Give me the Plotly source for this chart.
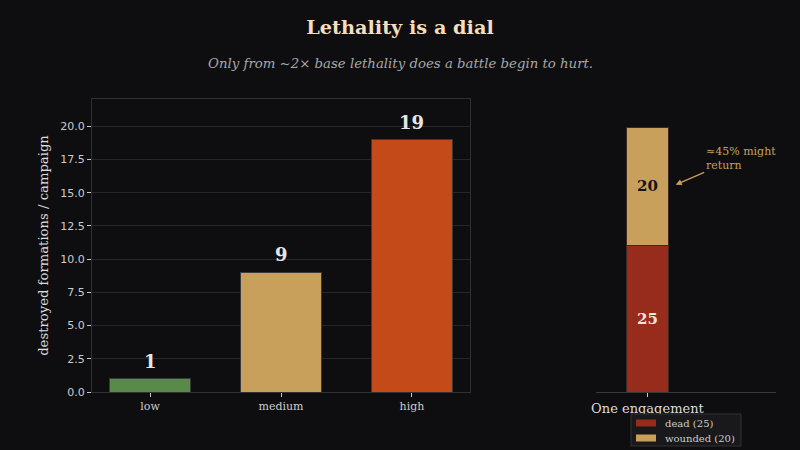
import plotly.graph_objects as go

# campaign comparison
levels = ["low", "medium", "high"]
destroyed = [1, 9, 19]
level_colors = ["#5a8a48", "#c8a05c", "#c44a1a"]

# one engagement breakdown
engagement = ["One engagement"]
dead = [25]
wounded = [20]
dead_color = "#982c1c"
wounded_color = "#c8a05c"

BG = "#0e0e10"
GRID = "#262628"
SERIF = "DejaVu Serif"
SANS = "DejaVu Sans"

fig = go.Figure()

fig.add_trace(go.Bar(
    x=levels, y=destroyed, marker=dict(color=level_colors, line=dict(color="#3a3a3a", width=1)),
    width=0.62, showlegend=False, xaxis="x", yaxis="y", hoverinfo="skip",
))

stack = [("dead", dead, dead_color, "#f0e6dc"), ("wounded", wounded, wounded_color, "#141414")]
for name, vals, col, txtcol in stack:
    fig.add_trace(go.Bar(
        x=engagement, y=vals, name="%s (%d)" % (name, vals[0]), xaxis="x2", yaxis="y2",
        marker=dict(color=col, line=dict(color="#3a2a22", width=1)), width=0.5,
        text=[str(v) for v in vals], textposition="inside", insidetextanchor="middle",
        textfont=dict(family=SERIF, size=15, color=txtcol, weight="bold"),
        showlegend=False,
    ))

# value labels over the campaign bars
for lv, v in zip(levels, destroyed):
    fig.add_annotation(x=lv, y=v, xref="x", yref="y", text="<b>%d</b>" % v,
                       showarrow=False, yanchor="bottom", yshift=5,
                       font=dict(family=SERIF, size=18, color="#e6e6e6"))

# note on the wounded
fig.add_annotation(x=0.33, y=35.3, xref="x2", yref="y2", text="",
                   showarrow=True, arrowhead=2, arrowsize=1, arrowwidth=1.2,
                   arrowcolor=wounded_color, ax=30, ay=-13)
fig.add_annotation(x=704 / 800, y=1 - 158 / 450, xref="paper", yref="paper",
                   text="≈45% might<br>return", showarrow=False, align="left",
                   xanchor="left", yanchor="middle",
                   font=dict(family=SERIF, size=11, color=wounded_color))

fig.add_annotation(x=0.5, y=1 - 63 / 450, xref="paper", yref="paper",
                   text="<i>Only from ~2× base lethality does a battle begin to hurt.</i>",
                   showarrow=False, xanchor="center", yanchor="middle",
                   font=dict(family=SERIF, size=13.3, color="#a8a8a8"))

# compact legend box under the engagement bar
fig.add_shape(type="rect", xref="paper", yref="paper",
              x0=631 / 800, x1=741 / 800, y0=1 - 446 / 450, y1=1 - 414 / 450,
              fillcolor="#19191b", line=dict(color="#333335", width=1))
for i, (name, vals, col, _) in enumerate(stack):
    yc = 423 + 15 * i
    fig.add_shape(type="rect", xref="paper", yref="paper",
                  x0=636 / 800, x1=656 / 800, y0=1 - (yc + 3.5) / 450, y1=1 - (yc - 3.5) / 450,
                  fillcolor=col, line=dict(width=0))
    fig.add_annotation(x=663 / 800, y=1 - yc / 450, xref="paper", yref="paper",
                       text="%s (%d)" % (name, vals[0]), showarrow=False,
                       xanchor="left", yanchor="middle",
                       font=dict(family=SERIF, size=10, color="#cccccc"))

fig.update_layout(
    width=800, height=450,
    paper_bgcolor=BG, plot_bgcolor=BG,
    margin=dict(l=0, r=0, t=0, b=0, autoexpand=False),
    barmode="stack", bargap=0.4, showlegend=False,
    title=dict(text="<b>Lethality is a dial</b>", x=0.5, xanchor="center",
               y=1 - 27 / 450, yanchor="middle",
               font=dict(family=SERIF, size=19.3, color="#f2dfbc")),
    xaxis=dict(domain=[92 / 800, 470 / 800], range=[-0.443, 2.443],
               showline=True, mirror=True, linecolor="#303032", linewidth=1,
               ticks="outside", ticklen=4, tickcolor="#cccccc",
               tickfont=dict(family=SERIF, size=11, color="#cccccc"),
               showgrid=False, zeroline=False),
    yaxis=dict(domain=[58 / 450, 351 / 450], range=[0, 22.05],
               dtick=2.5, tickformat=".1f",
               showline=True, mirror=True, linecolor="#303032", linewidth=1,
               ticks="outside", ticklen=4, tickcolor="#cccccc",
               tickfont=dict(family=SANS, size=11, color="#cccccc"),
               gridcolor=GRID, zeroline=False,
               title=dict(text="destroyed formations / campaign", standoff=8,
                          font=dict(family=SERIF, size=13.2, color="#dddddd"))),
    xaxis2=dict(domain=[596 / 800, 776 / 800], range=[-0.6, 1.5],
                anchor="y2", showline=True, linecolor="#3a3a3c", linewidth=1,
                ticks="outside", ticklen=4, tickcolor="#cccccc",
                tickfont=dict(family=SERIF, size=13, color="#dddddd"),
                showgrid=False, zeroline=False),
    yaxis2=dict(domain=[58 / 450, 351 / 450], range=[0, 49.9], anchor="x2",
                visible=False),
)

# page body has a default margin; drop it so the figure sits at 0,0
fig.write_html("out.html", config={"displayModeBar": False},
               post_script="document.body.style.margin='0';")
